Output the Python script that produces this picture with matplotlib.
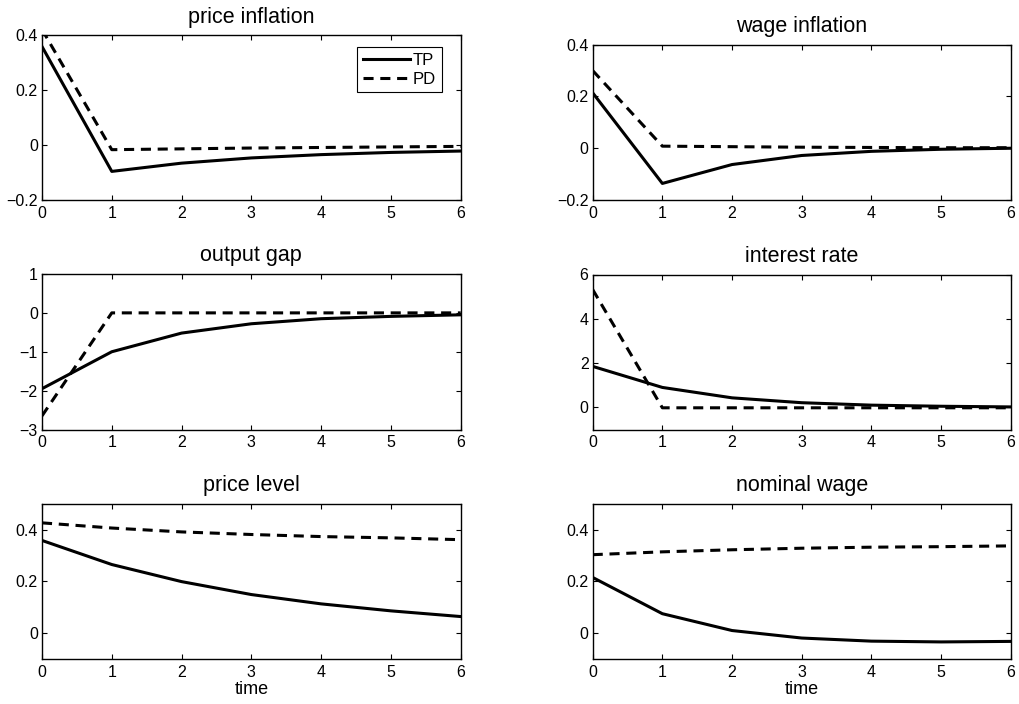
import matplotlib
matplotlib.use('Agg')
import matplotlib.pyplot as plt
import numpy as np

plt.rcParams['font.family'] = ['Liberation Sans', 'DejaVu Sans']

periods = np.arange(7)

# impulse responses: TP (solid) and PD (dashed)
price_infl_tp = [0.358, -0.096, -0.066, -0.047, -0.035, -0.027, -0.022]
price_infl_pd = [0.42, -0.017, -0.014, -0.011, -0.009, -0.007, -0.005]

wage_infl_tp = [0.214, -0.136, -0.063, -0.028, -0.012, -0.004, 0.0]
wage_infl_pd = [0.30, 0.008, 0.006, 0.004, 0.003, 0.002, 0.002]

output_gap_tp = [-1.95, -1.0, -0.52, -0.28, -0.15, -0.09, -0.05]
output_gap_pd = [-2.65, 0.0, 0.0, 0.0, 0.0, 0.0, 0.0]

interest_tp = [1.85, 0.9, 0.43, 0.21, 0.1, 0.05, 0.02]
interest_pd = [5.32, -0.02, -0.02, -0.02, -0.02, -0.02, -0.02]

price_level_tp = [0.358, 0.265, 0.199, 0.149, 0.113, 0.086, 0.064]
price_level_pd = [0.426, 0.406, 0.391, 0.381, 0.373, 0.368, 0.361]

nominal_wage_tp = [0.215, 0.075, 0.010, -0.019, -0.031, -0.034, -0.032]
nominal_wage_pd = [0.303, 0.314, 0.322, 0.328, 0.332, 0.334, 0.337]

titles = ['price inflation', 'wage inflation', 'output gap',
          'interest rate', 'price level', 'nominal wage']
series = [(price_infl_tp, price_infl_pd), (wage_infl_tp, wage_infl_pd),
          (output_gap_tp, output_gap_pd), (interest_tp, interest_pd),
          (price_level_tp, price_level_pd), (nominal_wage_tp, nominal_wage_pd)]
ylims = [(-0.2, 0.4), (-0.2, 0.4), (-3, 1), (-1, 6), (-0.1, 0.5), (-0.1, 0.5)]
yticks = [[-0.2, 0, 0.2, 0.4], [-0.2, 0, 0.2, 0.4], [-3, -2, -1, 0, 1],
          [0, 2, 4, 6], [0, 0.2, 0.4], [0, 0.2, 0.4]]

W, H = 1020, 704
# axes boxes in pixels: left, top, right, bottom
boxes = [(42, 35, 460.7, 200), (592.7, 44.7, 1010.7, 200),
         (42, 274, 460.7, 429.5), (592.7, 274.5, 1010.7, 429.5),
         (42, 503.7, 460.7, 659), (592.7, 503.7, 1010.7, 659)]


def fmt_tick(v):
    s = ('%g' % v)
    return s.replace('-', '\u2212')


fig = plt.figure(figsize=(W / 100, H / 100), dpi=100)

for i, (title, (tp, pd_), ylim, yt, box) in enumerate(zip(titles, series, ylims, yticks, boxes)):
    l, t, r, b = box
    ax = fig.add_axes([l / W, 1 - b / H, (r - l) / W, (b - t) / H])
    ax.plot(periods, tp, color='black', lw=2.2, label='TP')
    ax.plot(periods, pd_, color='black', lw=2.2, dashes=(3.3, 2.2), label='PD')
    ax.set_xlim(0, 6)
    ax.set_ylim(*ylim)
    ax.set_xticks(periods)
    ax.set_yticks(yt)
    ax.set_yticklabels([fmt_tick(v) for v in yt])
    ax.tick_params(direction='in', top=True, right=True, length=3.5,
                   labelsize=11.5, width=0.8)
    ax.tick_params(axis='x', pad=4)
    ax.tick_params(axis='y', pad=3)
    for sp in ax.spines.values():
        sp.set_linewidth(1.0)
    ax.set_title(title, fontsize=15.5, pad=9)
    if i >= 4:
        ax.set_xlabel('time', fontsize=13, labelpad=1)
    if i == 0:
        leg = ax.legend(loc='upper right', fontsize=12, handlelength=2.8,
                        fancybox=False, edgecolor='black', framealpha=1,
                        borderpad=0.35, labelspacing=0.2, handletextpad=0.2,
                        borderaxespad=0, bbox_to_anchor=(0.955, 0.925))
        leg.get_frame().set_linewidth(0.8)

fig.savefig('out.png', dpi=100)
